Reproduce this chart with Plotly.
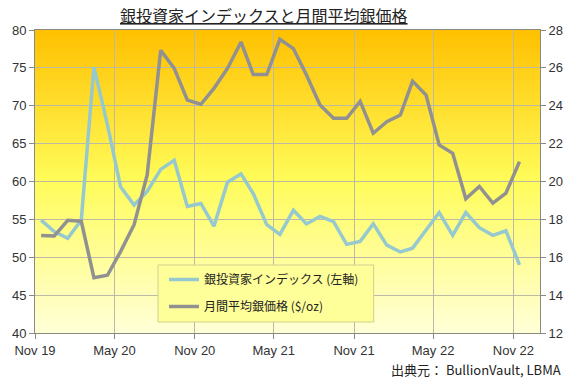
import pandas as pd
import plotly.graph_objects as go

# ---- data ----
months = pd.date_range("2019-11-01", periods=37, freq="MS") + pd.Timedelta(days=14)

investor_index = [54.9, 53.4, 52.5, 54.9, 75.1, 67.5, 59.3, 56.9, 58.7, 61.6,
                  62.8, 56.7, 57.1, 54.1, 59.9, 61.0, 58.4, 54.3, 53.0, 56.2,
                  54.4, 55.4, 54.7, 51.7, 52.1, 54.4, 51.6, 50.7, 51.2, 53.6,
                  55.9, 52.9, 55.9, 53.9, 52.9, 53.5, 49.0]

silver_price = [17.15, 17.12, 17.95, 17.90, 14.92, 15.05, 16.30, 17.72, 20.35, 26.93,
                25.97, 24.30, 24.08, 24.92, 25.97, 27.37, 25.65, 25.65, 27.51, 27.02,
                25.62, 24.04, 23.34, 23.34, 24.23, 22.55, 23.16, 23.51, 25.30, 24.56,
                21.93, 21.49, 19.09, 19.74, 18.86, 19.39, 21.05]

name_index = "銀投資家インデックス (左軸)"
name_price = "月間平均銀価格 ($/oz)"
title_text = "銀投資家インデックスと月間平均銀価格"
source_text = "出典元： BullionVault, LBMA"

# ---- style ----
FONT = "Liberation Sans, Arial, Noto Sans CJK JP, sans-serif"
JFONT = "Noto Sans CJK JP, sans-serif"
GRID = "#BDB9A6"
AXIS = "#8A8A80"
TXT = "#333333"

W, H = 575, 381
ML, MR, MT, MB = 33, 29, 30, 48
PW, PH = W - ML - MR, H - MT - MB


def px_x(px):
    return (px - ML) / PW


def px_y(py):
    return (H - MB - py) / PH


fig = go.Figure()
fig.add_trace(go.Scatter(x=months, y=investor_index, name=name_index, mode="lines",
                         line=dict(color="#96C9CF", width=3.5), legendgroup="a",
                         yaxis="y"))
fig.add_trace(go.Scatter(x=months, y=silver_price, name=name_price, mode="lines",
                         line=dict(color="#919191", width=3.5), legendgroup="b",
                         yaxis="y2"))

# gradient background bands
def lerp(c1, c2, t):
    return tuple(round(a + (b - a) * t) for a, b in zip(c1, c2))

stops = [(0.0, (255, 192, 0)), (0.5, (255, 252, 90)), (1.0, (255, 255, 215))]
N = 90
shapes = []
for i in range(N):
    f = (i + 0.5) / N  # fraction from top
    for (p0, c0), (p1, c1) in zip(stops[:-1], stops[1:]):
        if p0 <= f <= p1:
            col = lerp(c0, c1, (f - p0) / (p1 - p0))
            break
    y1 = 1 - i / N
    y0 = 1 - (i + 1) / N
    shapes.append(dict(type="rect", xref="x domain", yref="y domain",
                       x0=0, x1=1, y0=y0 - 0.002, y1=y1 + 0.002, layer="below",
                       line=dict(width=0),
                       fillcolor="rgb(%d,%d,%d)" % col))

# legend box
shapes.append(dict(type="rect", xref="paper", yref="paper",
                   x0=px_x(158), x1=px_x(377), y0=px_y(322), y1=px_y(265),
                   layer="above", fillcolor="#FFFF99",
                   line=dict(color="#D2CF8E", width=1)))

fig.update_layout(
    width=W, height=H,
    margin=dict(l=ML, r=MR, t=MT, b=MB),
    paper_bgcolor="white",
    plot_bgcolor="#FFF060",
    shapes=shapes,
    showlegend=True,
    legend=dict(x=px_x(164), y=px_y(265), xanchor="left", yanchor="top",
                bgcolor="rgba(0,0,0,0)", borderwidth=0,
                font=dict(family=JFONT, size=12, color="#222222"),
                traceorder="grouped", tracegroupgap=8, itemwidth=30),
    xaxis=dict(type="date", range=["2019-11-01", "2023-01-01"],
               tick0="2019-11-01", dtick="M6", tickformat="%b %y",
               showgrid=True, gridcolor=GRID, gridwidth=1,
               showline=True, linecolor=AXIS, linewidth=1, mirror=True,
               ticks="outside", ticklen=5, tickcolor=AXIS,
               tickfont=dict(family=FONT, size=13, color=TXT), zeroline=False),
    yaxis=dict(range=[40, 80], dtick=5, showgrid=True, gridcolor=GRID,
               showline=True, linecolor=AXIS, linewidth=1,
               ticks="outside", ticklen=5, tickcolor=AXIS,
               tickfont=dict(family=FONT, size=13, color=TXT), zeroline=False),
    yaxis2=dict(range=[12, 28], dtick=2, overlaying="y", side="right",
                showgrid=False, showline=True, linecolor=AXIS, linewidth=1,
                ticks="outside", ticklen=5, tickcolor=AXIS,
                tickfont=dict(family=FONT, size=13, color=TXT), zeroline=False),
    annotations=[
        dict(text="<u>" + title_text + "</u>", xref="paper", yref="paper",
             x=px_x(266), y=px_y(15), xanchor="center", yanchor="middle",
             showarrow=False, font=dict(family=JFONT, size=16, color="#222222")),
        dict(text=source_text, xref="paper", yref="paper",
             x=px_x(569), y=px_y(369), xanchor="right", yanchor="middle",
             showarrow=False, font=dict(family=JFONT, size=13, color="#222222")),
    ],
)

fig.write_html("out.html", config={"displayModeBar": False},
               post_script="document.body.style.margin='0';document.body.style.padding='0';")
